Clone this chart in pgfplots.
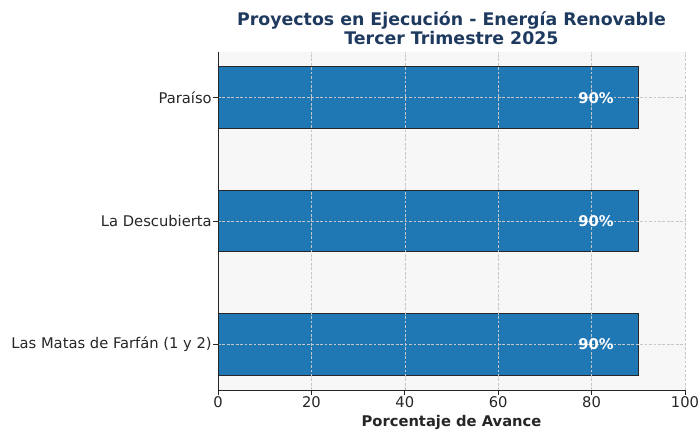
\documentclass[border=0pt]{standalone}
\usepackage{fontspec}
\setmainfont{DejaVu Sans}
\usepackage{pgfplots}
\pgfplotsset{compat=1.18}
\definecolor{barblue}{HTML}{1F77B4}
\definecolor{titleblue}{HTML}{1F3A5F}
\definecolor{bgray}{HTML}{F7F7F7}
\definecolor{txt}{HTML}{262626}
\begin{document}
\begin{tikzpicture}
\begin{axis}[
  scale only axis,
  width=336.2pt, height=243.4pt,
  xbar, bar width=0.5,
  xmin=0, xmax=100,
  ymin=-0.37, ymax=2.37,
  xtick={0,20,40,60,80,100},
  ytick={0,1,2},
  yticklabels={Las Matas de Farfán (1 y 2), La Descubierta, Paraíso},
  axis x line*=bottom, axis y line*=left,
  axis line style={draw=txt, line width=0.6pt},
  tick align=outside, major tick length=3.5pt,
  tick style={draw=txt, line width=0.6pt},
  ticklabel style={font=\fontsize{10.6}{12.5}\selectfont, text=txt},
  xticklabel style={yshift=2pt},
  yticklabel style={xshift=2.5pt},
  /pgf/number format/assume math mode=true,
  grid=major,
  major grid style={dash pattern=on 2pt off 1.2pt, draw=black!22, line width=0.4pt},
  axis on top,
  axis background/.style={fill=bgray},
  xlabel={\textbf{Porcentaje de Avance}},
  xlabel style={font=\fontsize{10.6}{12.5}\selectfont, text=txt, yshift=2pt},
  title={Proyectos en Ejecución - Energía Renovable\\Tercer Trimestre 2025},
  title style={align=center, font=\bfseries\fontsize{12.5}{14.2}\selectfont, text=titleblue, yshift=-4.5pt},
  point meta=x,
  nodes near coords={\pgfmathprintnumber{\pgfplotspointmeta}\%},
  every node near coord/.append style={anchor=east, xshift=-17.3pt, inner sep=0pt, text=white, font=\bfseries\fontsize{10.6}{12.5}\selectfont},
]
\addplot[fill=barblue, draw=black!85, line width=0.8pt] coordinates {
  (90,0)
  (90,1)
  (90,2)
};
\end{axis}
\pgfresetboundingbox
\path[use as bounding box] (current axis.south west) ++(-156.96pt,-28.8pt) coordinate (A)
  (current axis.north east) ++(10.8pt,37.44pt) coordinate (B) (A) rectangle (B);
\end{tikzpicture}
\end{document}
